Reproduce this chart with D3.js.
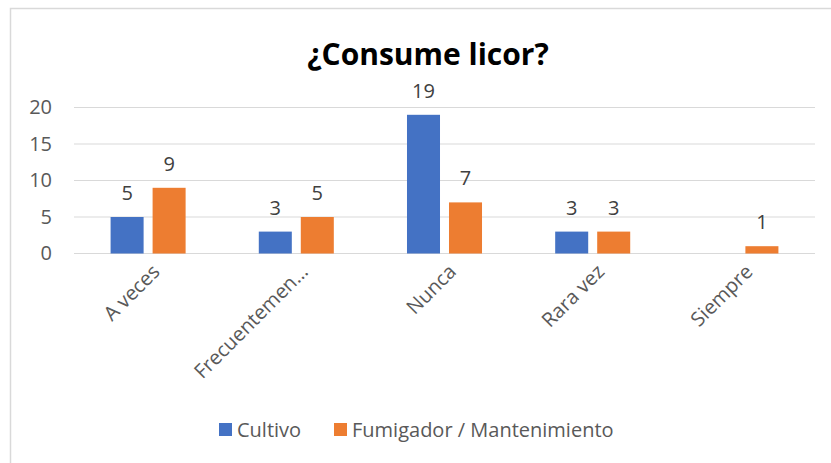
<!DOCTYPE html>
<html>
<head>
<meta charset="utf-8">
<script src="https://cdn.jsdelivr.net/npm/d3@7"></script>
<style>
  body { margin: 0; background: #fff; }
  text { font-family: "Open Sans", "Noto Sans", sans-serif; }
</style>
</head>
<body>
<div class="holder"></div>
<script>
var categories = ['A veces', 'Frecuentemen…', 'Nunca', 'Rara vez', 'Siempre']
var series = ['Cultivo', 'Fumigador / Mantenimiento']
var cultivo = [5, 3, 19, 3, null]
var fumigador = [9, 5, 7, 3, 1]
var yTicks = [0, 5, 10, 15, 20]
var colors = ['#4472C4', '#ED7D31']

var width = 831, height = 463

var svg = d3.select('.holder')
  .append('svg')
  .attr('width', width)
  .attr('height', height)

// chart frame
svg.append('rect')
  .attr('x', 10.5).attr('y', 8.5)
  .attr('width', 830).attr('height', 470)
  .attr('fill', 'none')
  .attr('stroke', '#d9d9d9')
  .attr('stroke-width', 1.5)

svg.append('text')
  .attr('x', 428).attr('y', 65)
  .attr('text-anchor', 'middle')
  .style('font-size', '30px')
  .style('font-weight', 'bold')
  .attr('fill', '#000')
  .text('¿Consume licor?')

var x0 = d3.scaleBand()
  .domain(categories)
  .range([74, 815])

var x1 = d3.scaleBand()
  .domain(series)
  .range([0, x0.bandwidth()])
  .paddingInner(0.214)
  .paddingOuter(0.871)

var y = d3.scaleLinear()
  .domain([0, 20])
  .range([253.5, 107.5])

// gridlines
svg.append('g')
  .selectAll('line')
  .data(yTicks)
  .enter()
  .append('line')
  .attr('x1', 74).attr('x2', 815)
  .attr('y1', function(d) { return y(d) })
  .attr('y2', function(d) { return y(d) })
  .attr('stroke', '#d9d9d9')
  .attr('stroke-width', 1)

var yAxis = d3.axisLeft(y).tickValues(yTicks).tickSize(0).tickPadding(0)
var yG = svg.append('g')
  .attr('transform', 'translate(52,0)')
  .call(yAxis)
yG.select('.domain').remove()
yG.selectAll('text')
  .style('font-size', '20px')
  .attr('fill', '#595959')
  .style('font-family', '"Open Sans", sans-serif')

var rows = categories.map(function(c, i) {
  return { cat: c, vals: [cultivo[i], fumigador[i]] }
})

var groups = svg.selectAll('.grp')
  .data(rows)
  .enter()
  .append('g')
  .attr('class', 'grp')
  .attr('transform', function(d) { return 'translate(' + x0(d.cat) + ',0)' })

groups.selectAll('rect')
  .data(function(d) {
    return d.vals.map(function(v, j) { return { s: series[j], v: v, j: j } })
      .filter(function(e) { return e.v != null })
  })
  .enter()
  .append('rect')
  .attr('x', function(d) { return x1(d.s) })
  .attr('y', function(d) { return y(d.v) })
  .attr('width', x1.bandwidth())
  .attr('height', function(d) { return y(0) - y(d.v) })
  .attr('fill', function(d) { return colors[d.j] })

groups.selectAll('.lbl')
  .data(function(d) {
    return d.vals.map(function(v, j) { return { s: series[j], v: v } })
      .filter(function(e) { return e.v != null })
  })
  .enter()
  .append('text')
  .attr('class', 'lbl')
  .attr('x', function(d) { return x1(d.s) + x1.bandwidth() / 2 })
  .attr('y', function(d) { return y(d.v) - 17 })
  .attr('text-anchor', 'middle')
  .style('font-size', '20px')
  .attr('fill', '#404040')
  .text(function(d) { return d.v })

// category labels, rotated
svg.append('g')
  .selectAll('text')
  .data(categories)
  .enter()
  .append('text')
  .attr('transform', function(d) {
    return 'translate(' + (x0(d) + x0.bandwidth() / 2 + 8) + ',268) rotate(-45)'
  })
  .attr('text-anchor', 'end')
  .attr('dy', '0.35em')
  .style('font-size', '20px')
  .attr('fill', '#595959')
  .text(function(d) { return d })

// legend
var legend = svg.append('g')
var legX = [219, 334]
series.forEach(function(s, i) {
  legend.append('rect')
    .attr('x', legX[i]).attr('y', 423)
    .attr('width', 13).attr('height', 13)
    .attr('fill', colors[i])
  legend.append('text')
    .attr('x', legX[i] + 18).attr('y', 437)
    .style('font-size', '20px')
    .attr('fill', '#595959')
    .text(s)
})
</script>
</body>
</html>
